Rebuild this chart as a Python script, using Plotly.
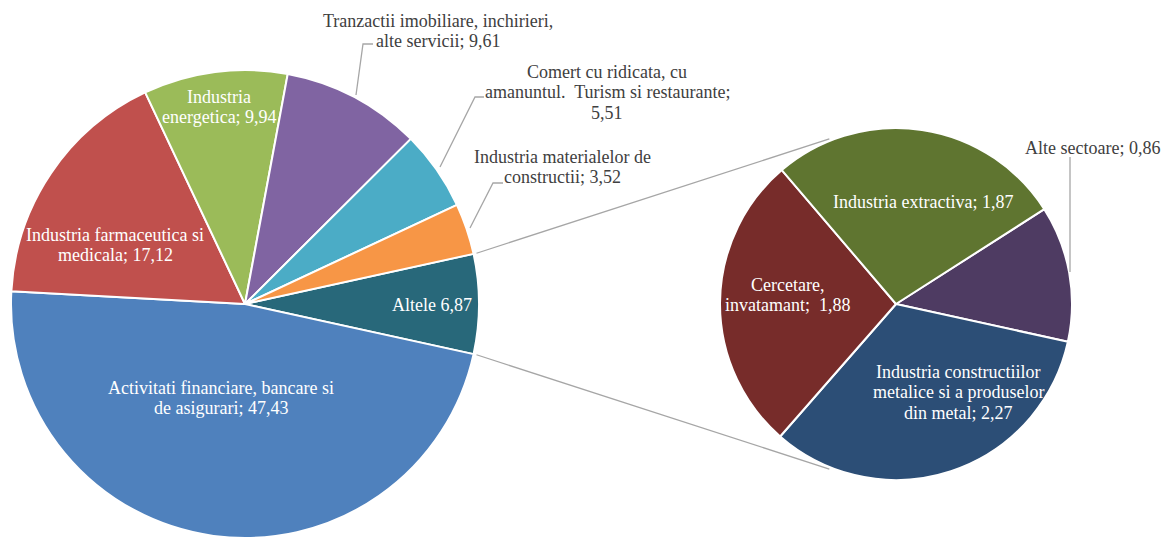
import math
import plotly.graph_objects as go

W, H = 1170, 539

# main pie (clockwise, starting with the split-off slice)
main_labels = ['Altele', 'Activitati financiare, bancare si<br>de asigurari',
               'Industria farmaceutica si<br>medicala', 'Industria<br>energetica',
               'Tranzactii imobiliare, inchirieri,<br>alte servicii',
               'Comert cu ridicata, cu<br>amanuntul.\u00a0 Turism si restaurante;<br>',
               'Industria materialelor de<br>constructii']
main_values = [6.87, 47.43, 17.12, 9.94, 9.61, 5.51, 3.52]
main_colors = ['#28687A', '#4F81BD', '#C0504D', '#9BBB59', '#8064A2', '#4BACC6', '#F79646']
main_sep = [' ', '; ', '; ', '; ', '; ', '', '; ']

# second pie (breakdown of "Altele")
sub_labels = ['Alte sectoare', 'Industria constructiilor<br>metalice si a produselor<br>din metal',
              'Cercetare,<br>invatamant', 'Industria extractiva']
sub_values = [0.86, 2.27, 1.88, 1.87]
sub_colors = ['#4E3B62', '#2C4E76', '#772C2A', '#5F7530']
sub_sep = ['; ', '; ', ';\u00a0 ', '; ']


def fmt(v):
    return f'{v:.2f}'.replace('.', ',')


def px(x, y):
    return x / W, 1 - y / H


# geometry in pixels
c1, r1 = (245, 304), 234
c2, r2 = (896, 304), 176
rot_main = 90 - main_values[0] / sum(main_values) * 360 / 2
rot_sub = 57.4


def dom(c, r):
    return dict(x=[(c[0] - r) / W, (c[0] + r) / W],
                y=[(H - c[1] - r) / H, (H - c[1] + r) / H])


fig = go.Figure()
fig.add_trace(go.Pie(
    labels=[l.replace('<br>', ' ') for l in main_labels], values=main_values,
    sort=False, direction='clockwise', rotation=rot_main,
    marker=dict(colors=main_colors, line=dict(color='white', width=2)),
    textinfo='none', domain=dom(c1, r1), showlegend=False))
fig.add_trace(go.Pie(
    labels=[l.replace('<br>', ' ') for l in sub_labels], values=sub_values,
    sort=False, direction='clockwise', rotation=rot_sub,
    marker=dict(colors=sub_colors, line=dict(color='white', width=2)),
    textinfo='none', domain=dom(c2, r2), showlegend=False))

# label positions (pixel centres) and colours
main_pos = [(432, 305), (221, 398), (115, 245), (219, 107), (438, 31), (607, 92), (562, 167)]
main_inside = [True, True, True, True, False, False, False]
sub_pos = [(1092, 148), (958, 392), (787, 295), (923, 202)]
sub_inside = [False, True, True, True]

LINE = 20.5
ann = []
for lab, v, sep, p, ins in zip(main_labels + sub_labels, main_values + sub_values,
                               main_sep + sub_sep, main_pos + sub_pos,
                               main_inside + sub_inside):
    lines = (lab + sep + fmt(v)).split('<br>')
    n = len(lines)
    for i, t in enumerate(lines):
        x, y = px(p[0], p[1] + (i - (n - 1) / 2) * LINE)
        ann.append(dict(x=x, y=y, xref='paper', yref='paper', showarrow=False,
                        xanchor='center', yanchor='middle', text=t,
                        font=dict(color='white' if ins else '#404040', size=18)))

grey = '#A6A6A6'
shapes = []


def polyline(pts):
    path = 'M ' + ' L '.join(f'{px(*q)[0]} {px(*q)[1]}' for q in pts)
    shapes.append(dict(type='path', path=path, xref='paper', yref='paper',
                       line=dict(color=grey, width=1.3)))


# leader lines
polyline([(356, 95), (363, 44), (373, 44)])
polyline([(440, 167), (475, 97), (484, 97)])
polyline([(470, 228), (493, 183), (503, 183)])
polyline([(1070, 272), (1070, 157)])


# connectors between the two pies
def on_circle(c, r, a):
    a = math.radians(a)
    return c[0] + r * math.sin(a), c[1] - r * math.cos(a)


a_top = rot_main
a_bot = rot_main + main_values[0] / sum(main_values) * 360
polyline([on_circle(c1, r1 + 3, a_top), on_circle(c2, r2 + 2, -22)])
polyline([on_circle(c1, r1 + 3, a_bot), on_circle(c2, r2 + 2, 202)])

fig.update_layout(
    width=W, height=H,
    margin=dict(l=0, r=0, t=0, b=0),
    paper_bgcolor='white', plot_bgcolor='white',
    font=dict(family='Liberation Serif', size=18),
    annotations=ann, shapes=shapes,
)

fig.write_html('out.html', config={'displayModeBar': False},
               post_script="document.body.style.margin='0';")
